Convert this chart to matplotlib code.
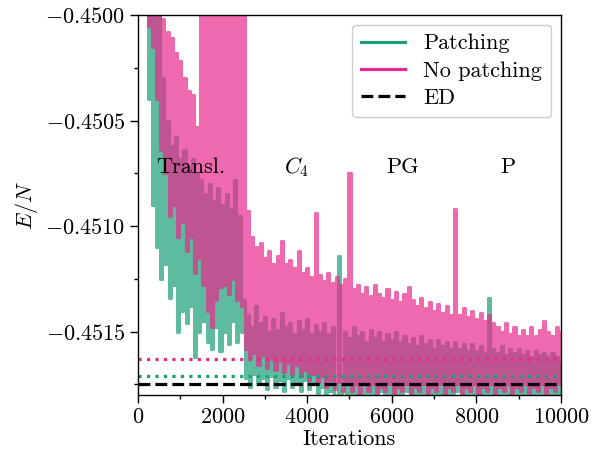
import matplotlib
matplotlib.use("Agg")
import matplotlib.pyplot as plt
from matplotlib.ticker import MultipleLocator, FuncFormatter
import numpy as np

plt.rcParams['font.family'] = 'serif'
plt.rcParams['font.serif'] = ['cmr10']
plt.rcParams['mathtext.fontset'] = 'cm'
plt.rcParams['axes.unicode_minus'] = False
plt.rcParams['axes.formatter.use_mathtext'] = True

# ---- data (sampled every 50 iterations) ----
step = 50
patching = [
    -0.4470, -0.4488, -0.4480, -0.44990, -0.4490, -0.45040, -0.4495, -0.45090,
    -0.44985, -0.45110, -0.45000, -0.45125, -0.45030, -0.45118, -0.45050, -0.45134,
    -0.45062, -0.45128, -0.45058, -0.45150, -0.45068, -0.45140, -0.45064, -0.45146,
    -0.45072, -0.45138, -0.45068, -0.45162, -0.45075, -0.45150, -0.45078, -0.45145,
    -0.45085, -0.45155, -0.45080, -0.45158, -0.45088, -0.45148, -0.45082, -0.45159,
    -0.45090, -0.45150, -0.45085, -0.45156, -0.45092, -0.45145, -0.45078, -0.45155,
    -0.45095, -0.45150, -0.45135, -0.45172, -0.45142, -0.45176, -0.45148, -0.45170,
    -0.45138, -0.45175, -0.45146, -0.45172, -0.45143, -0.45177, -0.45150, -0.45171,
    -0.45144, -0.45176, -0.45149, -0.45173, -0.45141, -0.45178, -0.45148, -0.45172,
    -0.45146, -0.45176, -0.45151, -0.45174, -0.45145, -0.45178, -0.45149, -0.45173,
    -0.45144, -0.45177, -0.45151, -0.45175, -0.45147, -0.45179, -0.45150, -0.45176,
    -0.45146, -0.45180, -0.45151, -0.45178, -0.45148, -0.45181, -0.45180, -0.45114,
    -0.45181, -0.45178, -0.45150, -0.45180, -0.45153, -0.45182, -0.45148, -0.45179,
    -0.45152, -0.45181, -0.45150, -0.45180, -0.45155, -0.45183, -0.45149, -0.45179,
    -0.45153, -0.45181, -0.45150, -0.45178, -0.45155, -0.45182, -0.45151, -0.45180,
    -0.45154, -0.45183, -0.45150, -0.45179, -0.45155, -0.45181, -0.45152, -0.45178,
    -0.45156, -0.45182, -0.45153, -0.45180, -0.45157, -0.45183, -0.45152, -0.45179,
    -0.45156, -0.45181, -0.45154, -0.45179, -0.45158, -0.45182, -0.45154, -0.45180,
    -0.45157, -0.45183, -0.45155, -0.45179, -0.45158, -0.45181, -0.45155, -0.45178,
    -0.45158, -0.45182, -0.45156, -0.45180, -0.45159, -0.45183, -0.45156, -0.45179,
    -0.45159, -0.45181, -0.45157, -0.45179, -0.45160, -0.45182, -0.45134, -0.45181,
    -0.45158, -0.45179, -0.45160, -0.45182, -0.45157, -0.45180, -0.45161, -0.45183,
    -0.45158, -0.45179, -0.45160, -0.45181, -0.45158, -0.45179, -0.45161, -0.45182,
    -0.45159, -0.45180, -0.45162, -0.45183, -0.45159, -0.45179, -0.45161, -0.45181,
    -0.45160, -0.45180, -0.45162, -0.45182, -0.45160, -0.45180, -0.45162, -0.45181,
    -0.45165,
]
no_patching = [
    -0.4470, -0.4485, -0.4475, -0.44960, -0.4480, -0.45005, -0.4485, -0.45015,
    -0.4490, -0.45040, -0.44960, -0.45064, -0.45002, -0.45075, -0.45008, -0.45095,
    -0.45011, -0.45090, -0.45018, -0.45105, -0.45022, -0.45098, -0.45030, -0.45112,
    -0.45036, -0.45105, -0.45038, -0.45122, -0.45053, -0.45115, -0.4498, -0.45128,
    -0.4498, -0.45140, -0.4497, -0.45148, -0.4496, -0.45135, -0.4497, -0.45129,
    -0.4495, -0.45128, -0.4496, -0.45132, -0.4497, -0.45125, -0.4496, -0.45135,
    -0.4497, -0.45138, -0.4498, -0.45158, -0.45093, -0.45162, -0.45105, -0.45160,
    -0.45110, -0.45166, -0.45108, -0.45161, -0.45115, -0.45167, -0.45112, -0.45163,
    -0.45118, -0.45168, -0.45114, -0.45164, -0.45107, -0.45169, -0.45118, -0.45165,
    -0.45116, -0.45170, -0.45120, -0.45166, -0.45112, -0.45171, -0.45122, -0.45168,
    -0.45120, -0.45173, -0.45124, -0.45170, -0.45094, -0.45174, -0.45123, -0.45171,
    -0.45126, -0.45176, -0.45122, -0.45173, -0.45127, -0.45177, -0.45124, -0.45174,
    -0.45128, -0.45178, -0.45125, -0.45175, -0.45075, -0.45178, -0.45130, -0.45175,
    -0.45128, -0.45179, -0.45132, -0.45175, -0.45129, -0.45178, -0.45133, -0.45175,
    -0.45128, -0.45179, -0.45132, -0.45176, -0.45134, -0.45178, -0.45130, -0.45175,
    -0.45135, -0.45179, -0.45131, -0.45176, -0.45136, -0.45178, -0.45132, -0.45175,
    -0.45129, -0.45179, -0.45135, -0.45176, -0.45138, -0.45178, -0.45134, -0.45175,
    -0.45139, -0.45179, -0.45136, -0.45176, -0.45140, -0.45178, -0.45137, -0.45175,
    -0.45141, -0.45179, -0.45138, -0.45176, -0.45142, -0.45178, -0.45092, -0.45175,
    -0.45142, -0.45179, -0.45139, -0.45176, -0.45143, -0.45178, -0.45140, -0.45175,
    -0.45144, -0.45179, -0.45141, -0.45176, -0.45145, -0.45178, -0.45142, -0.45175,
    -0.45146, -0.45179, -0.45148, -0.45176, -0.45150, -0.45178, -0.45146, -0.45175,
    -0.45151, -0.45179, -0.45148, -0.45176, -0.45152, -0.45178, -0.45149, -0.45175,
    -0.45152, -0.45179, -0.45148, -0.45176, -0.45152, -0.45178, -0.45149, -0.45175,
    -0.45145, -0.45179, -0.45150, -0.45176, -0.45152, -0.45178, -0.45148, -0.45175,
    -0.45150,
]
ed_energy = -0.45175
patching_best = -0.45171
no_patching_best = -0.45163
region_labels = ["Transl.", "$C_4$", "PG", "P"]
region_centers = [1250, 3750, 6250, 8750]
region_y = -0.45072

green = "#1b9e77"
pink = "#e7298a"

it_p = np.arange(len(patching)) * step
it_n = np.arange(len(no_patching)) * step

fig = plt.figure(figsize=(6.06, 4.57), dpi=100)
ax = fig.add_axes([0.2277, 0.1357, 0.6980, 0.8315])

ax.plot(it_p, patching, color=green, alpha=0.7, lw=2.2, drawstyle="steps-mid",
        label="Patching")
ax.plot(it_n, no_patching, color=pink, alpha=0.7, lw=2.2, drawstyle="steps-mid",
        label="No patching")
ax.axhline(no_patching_best, color=pink, ls=":", lw=2.3)
ax.axhline(patching_best, color=green, ls=":", lw=2.3)
ax.axhline(ed_energy, color="black", ls="--", lw=2.3, label="ED")

for lab, xc in zip(region_labels, region_centers):
    ax.text(xc, region_y, lab, ha="center", va="center", fontsize=16)

ax.set_xlim(0, 10000)
ax.set_ylim(-0.4518, -0.4500)
ax.xaxis.set_major_locator(MultipleLocator(2000))
ax.xaxis.set_minor_locator(MultipleLocator(1000))
ax.yaxis.set_major_locator(MultipleLocator(0.0005))
ax.yaxis.set_minor_locator(MultipleLocator(0.00025))
ax.yaxis.set_major_formatter(FuncFormatter(lambda v, p: r"$%.4f$" % v))
ax.xaxis.set_major_formatter(FuncFormatter(lambda v, p: r"$%d$" % v))
ax.tick_params(which="major", length=5.5, width=1.0, labelsize=16)
ax.tick_params(which="minor", length=2.8, width=1.0)
for s in ax.spines.values():
    s.set_linewidth(1.0)

ax.set_xlabel("Iterations", fontsize=16, labelpad=2)
ax.set_ylabel("$E/N$", fontsize=16, labelpad=4)

leg_handles = [
    plt.Line2D([], [], color=green, lw=2.3),
    plt.Line2D([], [], color=pink, lw=2.3),
    plt.Line2D([], [], color="black", ls="--", lw=2.3),
]
ax.legend(leg_handles, ["Patching", "No patching", "ED"], loc="upper right",
          fontsize=16, fancybox=True, framealpha=1.0, edgecolor="#cccccc",
          borderaxespad=0.45, handlelength=2.0, labelspacing=0.35)

fig.savefig("out.png", dpi=100)
